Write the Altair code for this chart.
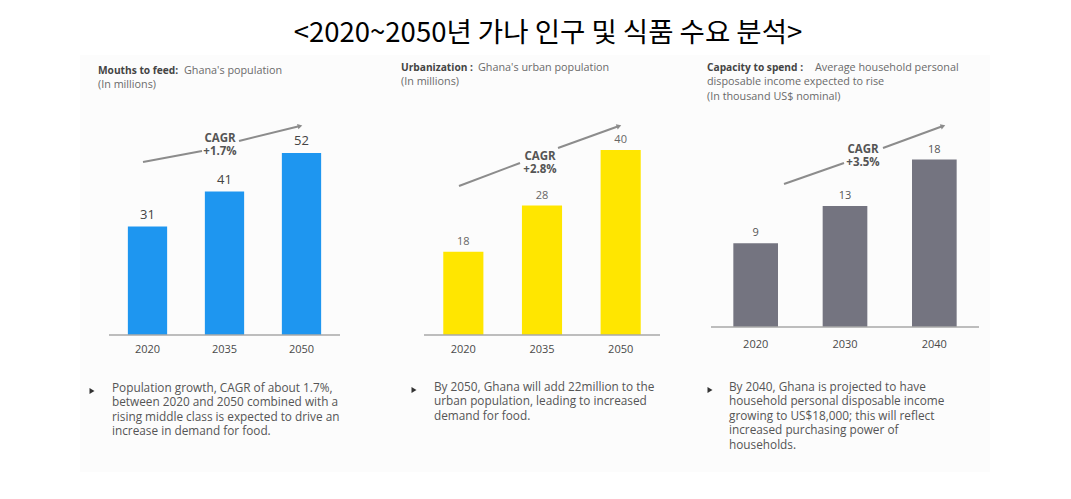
import altair as alt
import pandas as pd

# ---------------- data ----------------
title_text = "<2020~2050년 가나 인구 및 식품 수요 분석>"

years_pop = ["2020", "2035", "2050"]
population = [31, 41, 52]

years_urban = ["2020", "2035", "2050"]
urban_population = [18, 28, 40]

years_income = ["2020", "2030", "2040"]
disposable_income = [9, 13, 18]

header_bold = ["Mouths to feed:", "Urbanization :", "Capacity to spend :"]
header_rest = ["Ghana's population", "Ghana's urban population", "Average household personal"]
header_more = [["(In millions)"], ["(In millions)"],
               ["disposable income expected to rise", " (In thousand US$ nominal)"]]
cagr_labels = ["+1.7%", "+2.8%", "+3.5%"]
bullet_texts = [
    ["Population growth, CAGR of about 1.7%,",
     "between 2020 and 2050 combined with a",
     "rising middle class is expected to drive an",
     "increase in demand for food."],
    ["By 2050, Ghana will add 22million to the",
     "urban population, leading to increased",
     "demand for food."],
    ["By 2040, Ghana is projected to have",
     "household personal disposable income",
     "growing to US$18,000; this will reflect",
     "increased purchasing power of",
     "households."],
]

one = pd.DataFrame({"k": [0]})
FONT = "Open Sans"


def txt(x, y, text, align="left", baseline="middle", font=FONT, **kw):
    return alt.Chart(one).mark_text(text=text, align=align, baseline=baseline, font=font, **kw).encode(
        x=alt.value(x), y=alt.value(y))


def line(x1, y1, x2, y2, color="#8c8c8c", w=2):
    return alt.Chart(one).mark_rule(color=color, strokeWidth=w).encode(
        x=alt.value(x1), y=alt.value(y1), x2=alt.value(x2), y2=alt.value(y2))


def head(x, y, angle, color="#8c8c8c"):
    return alt.Chart(one).mark_point(shape="triangle-up", filled=True, size=30, opacity=1,
                                     color=color, angle=angle).encode(x=alt.value(x), y=alt.value(y))


def panel(years, values, color, xrange, pin, ymax, yrange, vsize, vcolor, year_y):
    df = pd.DataFrame({"year": years, "value": values})
    x = alt.X("year:N", sort=years, axis=None,
              scale=alt.Scale(range=xrange, paddingInner=pin, paddingOuter=pin / 2))
    y = alt.Y("value:Q", axis=None, scale=alt.Scale(domain=[0, ymax], range=yrange, nice=False, zero=True))
    bars = alt.Chart(df).mark_bar(color=color).encode(x=x, y=y)
    vals = alt.Chart(df).mark_text(baseline="bottom", dy=-5, fontSize=vsize, color=vcolor, font=FONT).encode(
        x=x, y=y, text="value:Q")
    yrs = alt.Chart(df).mark_text(baseline="middle", fontSize=11, color="#4a4a4a", font=FONT).encode(
        x=x, y=alt.value(year_y), text="year:N")
    axis_line = alt.Chart(one).mark_rule(color="#a8a8a8", strokeWidth=1.5).encode(
        x=alt.value(xrange[0]), x2=alt.value(xrange[1]), y=alt.value(yrange[0]))
    return alt.layer(bars, vals, yrs, axis_line)


bg = alt.Chart(one).mark_rect(color="#fcfcfc").encode(
    x=alt.value(72), x2=alt.value(982), y=alt.value(47), y2=alt.value(464))

title = txt(540, 26, title_text, align="center", fontSize=27.5, color="#000000",
            font="Noto Sans CJK KR")

p1 = panel(years_pop, population, "#1E96F0", [101, 332], 0.49, 60, [327, 117], 13, "#444444", 342)
p2 = panel(years_urban, urban_population, "#FFE600", [416, 652], 0.49, 40, [327, 142], 11, "#666666", 342)
p3 = panel(years_income, disposable_income, "#747480", [703, 971], 0.5, 20, [319, 133], 11, "#555555", 337)

layers = [bg, title, p1, p2, p3]

# headers
hb_pos = [(90, 63), (393, 60), (699, 60)]
hr_x = [176, 470, 807]
for i in range(3):
    bx, by = hb_pos[i]
    layers.append(txt(bx, by, header_bold[i], fontSize=10.2, fontWeight="bold", color="#444444"))
    layers.append(txt(hr_x[i], by, header_rest[i], fontSize=10.8, color="#6a6a6a"))
    for j, extra in enumerate(header_more[i]):
        layers.append(txt(bx, by + 14 + 14.5 * j, extra, fontSize=10.8, color="#6a6a6a"))

# CAGR annotations
cagr_pos = [(212, 131), (532, 149), (855, 142)]
for i in range(3):
    cx, cy = cagr_pos[i]
    layers.append(txt(cx, cy, ["CAGR", cagr_labels[i]], align="center", fontSize=11.5,
                      fontWeight="bold", color="#555555", lineHeight=13))
arrows = [
    ((135, 154, 194, 143), (231, 133, 292, 118), 76),
    ((451, 178, 512, 155), (550, 140, 611, 118), 70),
    ((776, 176, 836, 155), (875, 140, 935, 118), 70),
]
for a, b, ang in arrows:
    layers.append(line(*a))
    layers.append(line(*b))
    layers.append(head(b[2], b[3], ang))

# bullets
bullet_pos = [(84, 104, 383), (406, 426, 382), (702, 721, 382)]
for i in range(3):
    tx, bx, by = bullet_pos[i]
    layers.append(alt.Chart(one).mark_point(shape="triangle-right", filled=True, size=34, opacity=1,
                                            color="#333333").encode(x=alt.value(tx), y=alt.value(by)))
    layers.append(txt(bx, by - 8.5, bullet_texts[i], baseline="top", fontSize=11.8, color="#555555",
                      lineHeight=14.5))

chart = alt.layer(*layers).resolve_scale(x="independent", y="independent").properties(
    width=1055, height=483, padding=0, autosize=alt.AutoSizeParams(type="none"),
    background="#ffffff").configure_view(stroke=None)

chart.save("out.html", embed_options={"renderer": "svg", "actions": False})
